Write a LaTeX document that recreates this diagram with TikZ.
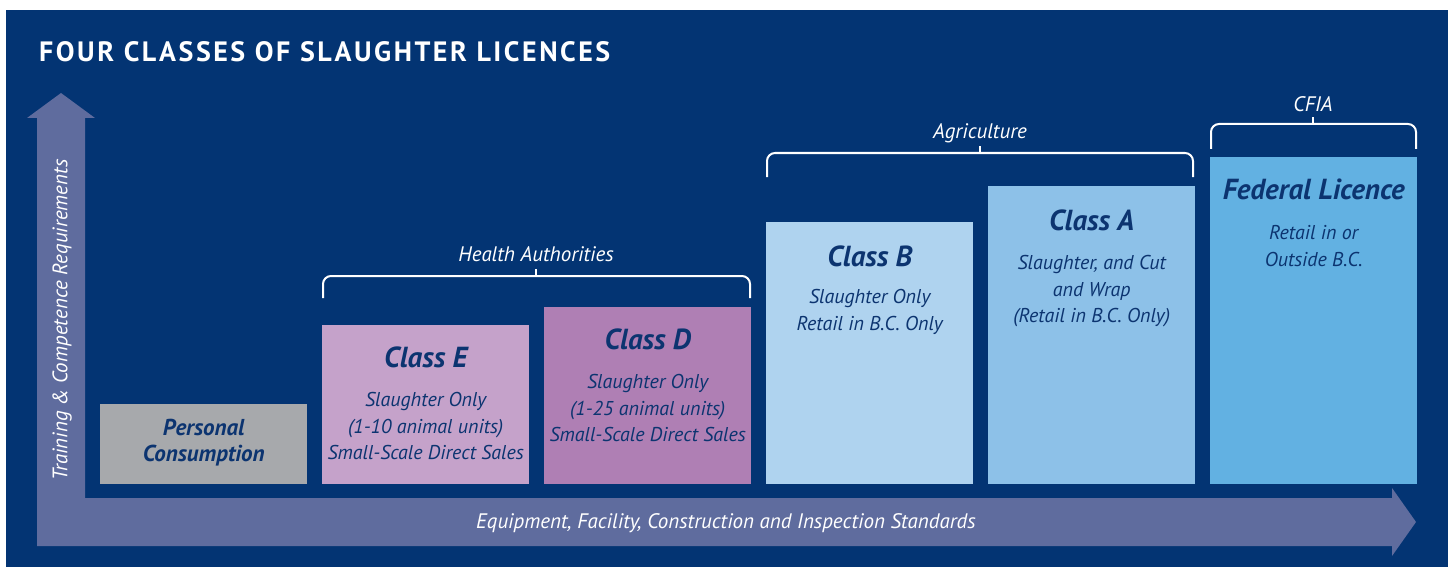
\documentclass[tikz,border=0pt]{standalone}
\usepackage{fontspec}
\setmainfont{PT Sans}
\usetikzlibrary{positioning}
\definecolor{bgblue}{RGB}{3,52,115}
\definecolor{arrowblue}{RGB}{95,108,158}
\definecolor{txtblue}{RGB}{12,52,112}
\definecolor{persgray}{RGB}{167,169,172}
\definecolor{classE}{RGB}{197,162,202}
\definecolor{classD}{RGB}{175,127,180}
\definecolor{classB}{RGB}{175,211,239}
\definecolor{classA}{RGB}{141,193,232}
\definecolor{federal}{RGB}{98,177,226}

\begin{document}
\begin{tikzpicture}[x=1pt,y=-1pt,
    lic box/.style={inner sep=0,minimum width=207pt,anchor=south west},
    head/.style={inner sep=0,text=txtblue,font=\fontsize{29}{32}\selectfont\bfseries\itshape},
    body/.style={inner sep=0,anchor=north,align=center,text=txtblue,
        font=\fontsize{20}{26.5}\selectfont\itshape,execute at begin node=\strut},
    group/.style={inner sep=0,text=white,font=\fontsize{21}{24}\selectfont\itshape},
    brace/.style={draw=white,line width=2pt,rounded corners=8pt},
    axis label/.style={inner sep=0,text=white,font=\fontsize{21}{24}\selectfont\itshape}]
    \useasboundingbox (0,0) rectangle (1448,567);
    \fill[white] (0,0) rectangle (1448,567);
    \fill[bgblue] (6,10) rectangle (1448,567);

    % title
    \node[inner sep=0,anchor=base west,text=white,font=\fontsize{28}{30}\selectfont\bfseries\addfontfeatures{LetterSpace=9}] (title) at (39,62) {FOUR CLASSES OF SLAUGHTER LICENCES};

    % the two axes
    \fill[arrowblue] (37,546) -- (37,118) -- (27,118) -- (61,93) -- (95,118) -- (85,118)
        -- (85,498) -- (1392,498) -- (1392,488) -- (1416,522) -- (1392,556) -- (1392,546) -- cycle;
    \node[axis label,rotate=90] (training) at (62,320) {Training \& Competence Requirements};
    \node[axis label] (standards) at (726,523) {Equipment, Facility, Construction and Inspection Standards};

    % licence boxes
    \node[lic box,fill=persgray,minimum height=80pt] (P) at (100,484) {};
    \node[lic box,fill=classE,minimum height=159pt] (E) at (322,484) {};
    \node[lic box,fill=classD,minimum height=177pt] (D) at (544,484) {};
    \node[lic box,fill=classB,minimum height=262pt] (B) at (766,484) {};
    \node[lic box,fill=classA,minimum height=298pt] (A) at (988,484) {};
    \node[lic box,fill=federal,minimum height=327pt] (F) at (1210,484) {};

    \node[inner sep=0,align=center,text=txtblue,font=\fontsize{23}{26}\selectfont\bfseries\itshape] (Ptext) at ([yshift=1pt]P.center) {Personal\\Consumption};

    \node[head] (Ehead) at ([yshift=-33pt]E.north) {Class E};
    \node[body,below=24pt of Ehead] (Ebody) {Slaughter Only\\(1-10 animal units)\\Small-Scale Direct Sales};
    \node[head] (Dhead) at ([yshift=-33pt]D.north) {Class D};
    \node[body,below=24pt of Dhead] (Dbody) {Slaughter Only\\(1-25 animal units)\\Small-Scale Direct Sales};
    \node[head] (Bhead) at ([yshift=-35pt]B.north) {Class B};
    \node[body,below=22pt of Bhead] (Bbody) {Slaughter Only\\Retail in B.C. Only};
    \node[head] (Ahead) at ([yshift=-35pt]A.north) {Class A};
    \node[body,below=24pt of Ahead] (Abody) {Slaughter, and Cut\\and Wrap\\(Retail in B.C. Only)};
    \node[head] (Fhead) at ([yshift=-33pt]F.north) {Federal Licence};
    \node[body,below=25pt of Fhead] (Fbody) {Retail in or\\Outside B.C.};

    % authorities
    \draw[brace] (323,298) |- (536,276) -| (750,298);
    \draw[brace] (536,276) -- (536,269);
    \node[group] (health) at (536,254) {Health Authorities};
    \draw[brace] (767,177) |- (980,153) -| (1193,177);
    \draw[brace] (980,153) -- (980,146);
    \node[group] (agri) at (980,133) {Agriculture};
    \draw[brace] (1211,149) |- (1313,124) -| (1416,149);
    \draw[brace] (1313,124) -- (1313,117);
    \node[group] (cfia) at (1313,104) {CFIA};
\end{tikzpicture}
\end{document}
